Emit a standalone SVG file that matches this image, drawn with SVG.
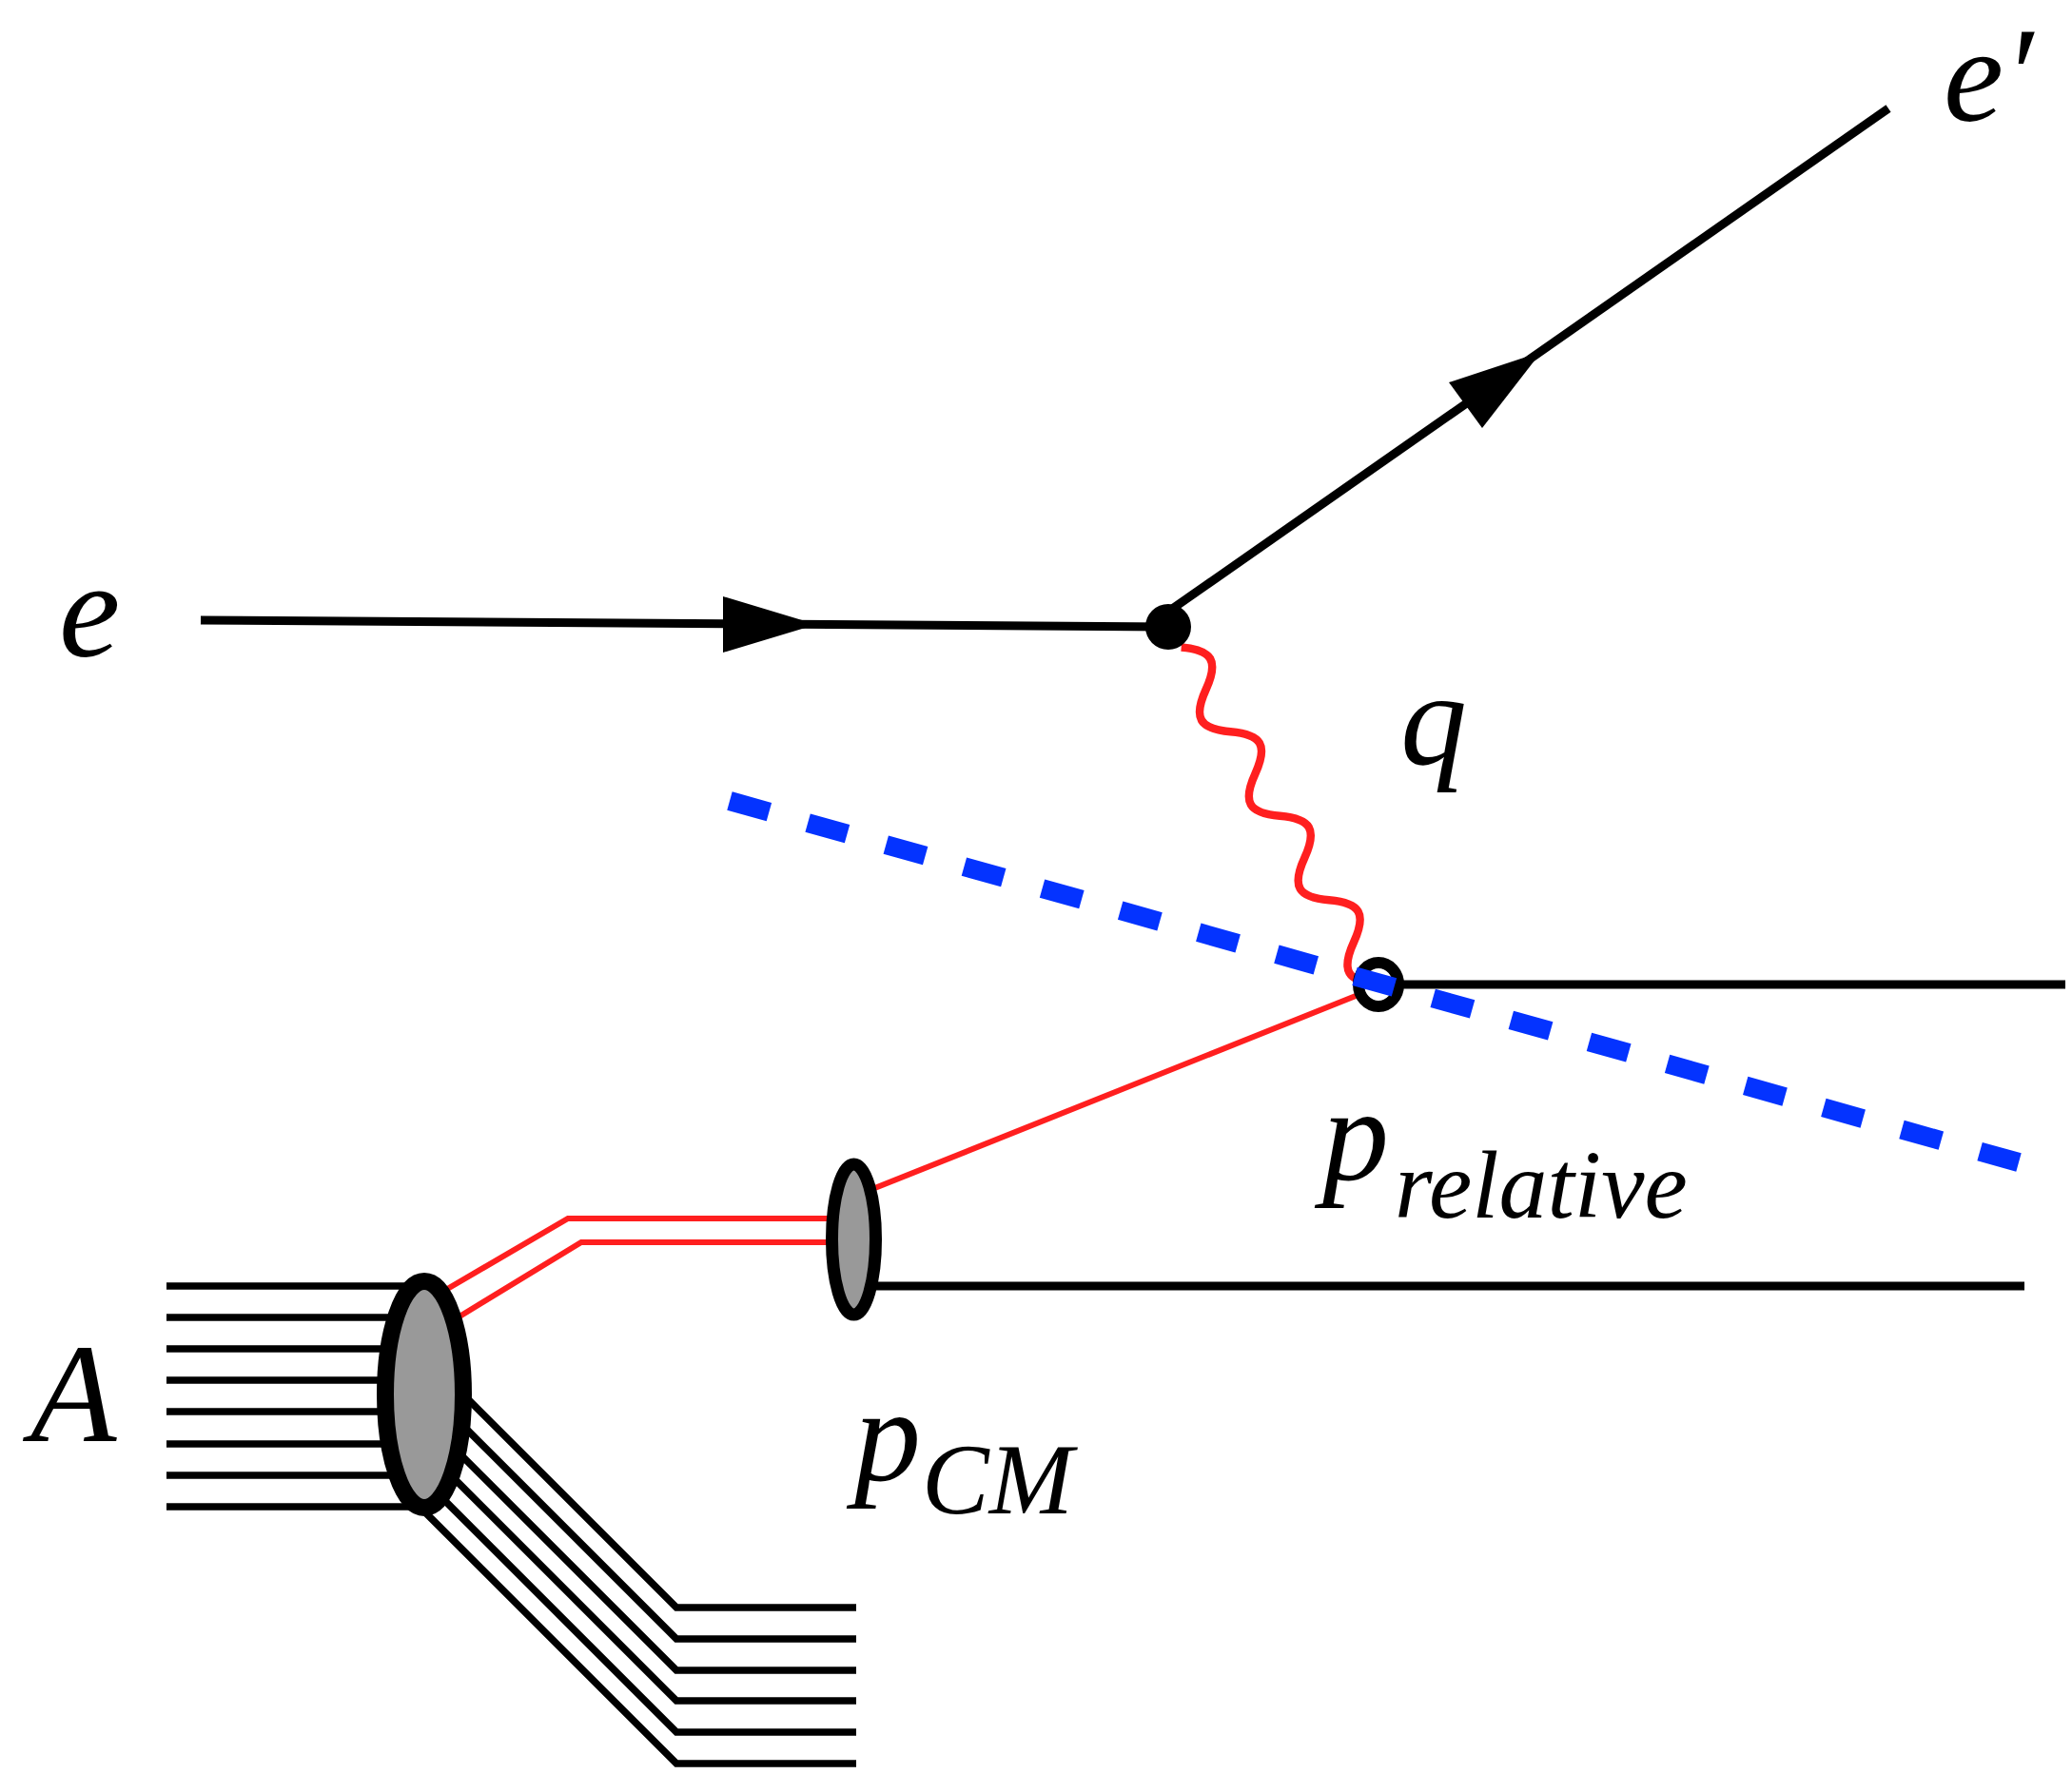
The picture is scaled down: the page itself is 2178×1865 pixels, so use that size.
<svg xmlns="http://www.w3.org/2000/svg" width="2178" height="1865" viewBox="0 0 2178 1865">
<style>
.ln{stroke:#000;stroke-width:9;fill:none;stroke-linecap:butt}
.thin{stroke:#000;stroke-width:7.5;fill:none}
.red{stroke:#ff1f1f;stroke-width:6;fill:none}
.wave{stroke:#ff1f1f;stroke-width:8.5;fill:none}
.blob{fill:#999;stroke:#000}
.arr{fill:#000}
</style>
<rect width="2178" height="1865" fill="#fff"/>
<g id="connectors">
  <line class="ln" x1="211" y1="652" x2="1228" y2="659"/>
  <polygon class="arr" points="760,627 858,656.5 760,686"/>
  <line class="ln" x1="1228" y1="643" x2="1985" y2="114"/>
  <polygon class="arr" points="1523,402 1620,370 1558,450"/>
  <path class="wave" transform="translate(1241.7,680.6) rotate(59.67)" d="M0,0 C19,-27 32.3,-27 51.3,0 S83.6,27 102.6,0 S134.9,-27 153.9,0 S186.2,27 205.2,0 S237.5,-27 256.5,0 S288.8,27 307.8,0 S340.1,-27 359.1,0 S391.4,27 410.4,0"/>
  <line class="ln" x1="1448" y1="1035" x2="2171" y2="1035"/>
  <line class="ln" x1="897" y1="1352" x2="2128" y2="1352"/>
  <line class="red" x1="897" y1="1258" x2="1440" y2="1041"/>
  <polyline class="red" points="460,1361 597,1281 880,1281"/>
  <polyline class="red" points="470,1392 611,1306 880,1306"/>
  <g class="thin">
    <line x1="175" y1="1352" x2="450" y2="1352"/>
    <line x1="175" y1="1385" x2="450" y2="1385"/>
    <line x1="175" y1="1418" x2="450" y2="1418"/>
    <line x1="175" y1="1451" x2="450" y2="1451"/>
    <line x1="175" y1="1484" x2="450" y2="1484"/>
    <line x1="175" y1="1518" x2="450" y2="1518"/>
    <line x1="175" y1="1551" x2="450" y2="1551"/>
    <line x1="175" y1="1584" x2="450" y2="1584"/>
  </g>
  <g class="thin">
    <polyline points="480,1459 711,1690 900,1690"/>
    <polyline points="475,1487 711,1723 900,1723"/>
    <polyline points="470,1515 711,1756 900,1756"/>
    <polyline points="465,1542 711,1788 900,1788"/>
    <polyline points="455,1565 711,1821 900,1821"/>
    <polyline points="440,1583 711,1854 900,1854"/>
  </g>
</g>
<g id="nucleus-A">
  <ellipse class="blob" cx="446" cy="1466" rx="41" ry="119" stroke-width="18"/>
</g>
<g id="pair-CM">
  <ellipse class="blob" cx="897.5" cy="1303" rx="23" ry="79" stroke-width="13"/>
</g>
<g id="vertex-electron">
  <circle cx="1228" cy="659" r="24" fill="#000"/>
</g>
<g id="vertex-nucleon">
  <ellipse cx="1449" cy="1035" rx="21" ry="23" fill="#fff" stroke="#000" stroke-width="12"/>
</g>
<g id="cut-line">
  <line x1="767" y1="842" x2="2122" y2="1222" stroke="#0433ff" stroke-width="20" stroke-dasharray="43 42.3"/>
</g>
<g id="labels" font-family="'Liberation Serif', serif" font-style="italic" fill="#000">
  <text x="62" y="690" font-size="145">e</text>
  <text x="2043" y="127" font-size="142">e′</text>
  <text x="1472" y="803" font-size="140">q</text>
  <text x="32" y="1515" font-size="148">A</text>
  <text x="1390" y="1240" font-size="140">p</text>
  <text x="1466" y="1280" font-size="102">relative</text>
  <text x="898" y="1556" font-size="140">p</text>
  <text x="969" y="1591" font-size="106">CM</text>
</g>
</svg>
